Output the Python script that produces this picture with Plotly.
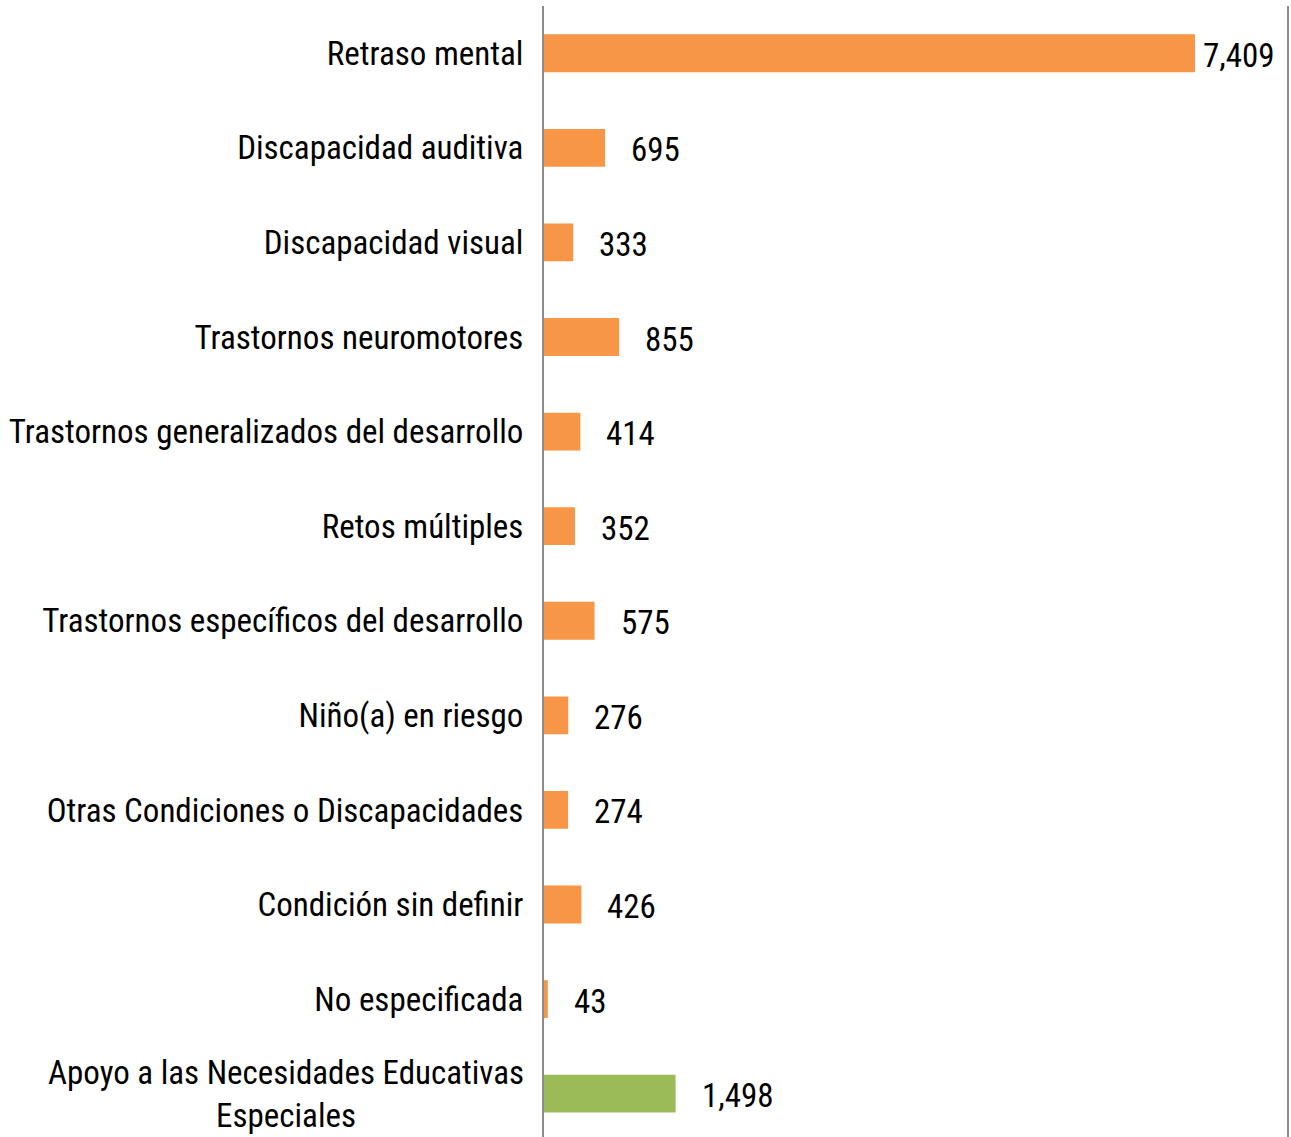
import plotly.graph_objects as go

categories = [
    "Retraso mental",
    "Discapacidad auditiva",
    "Discapacidad visual",
    "Trastornos neuromotores",
    "Trastornos generalizados del desarrollo",
    "Retos múltiples",
    "Trastornos específicos del desarrollo",
    "Niño(a) en riesgo",
    "Otras Condiciones o Discapacidades",
    "Condición sin definir",
    "No especificada",
    "Apoyo a las Necesidades Educativas<br>Especiales",
]
values = [7409, 695, 333, 855, 414, 352, 575, 276, 274, 426, 43, 1498]
value_labels = ["7,409", "695", "333", "855", "414", "352", "575", "276", "274", "426", "43", "1,498"]
colors = ["#F79646"] * 11 + ["#9BBB59"]

FONT = "Liberation Sans Narrow, Arial Narrow, Roboto Condensed, Liberation Sans, sans-serif"
FS = 33

fig = go.Figure()
fig.add_trace(go.Bar(
    x=values,
    y=list(range(len(categories))),
    orientation="h",
    marker=dict(color=colors, line=dict(width=0)),
    width=0.4,
    hoverinfo="skip",
))

annotations = []
for i, (v, lab) in enumerate(zip(values, value_labels)):
    annotations.append(dict(
        x=v, y=i, xref="x", yref="y", text=lab, showarrow=False,
        xanchor="left", yanchor="middle", xshift=6 if i == 0 else 24, yshift=-2,
        font=dict(family=FONT, size=FS, color="#000000"),
    ))

ticktext = [c if "<br>" not in c else "" for c in categories]
for i, c in enumerate(categories):
    if "<br>" in c:
        annotations.append(dict(
            x=0, y=i, xref="paper", yref="y", text=c, showarrow=False,
            xanchor="right", yanchor="middle", xshift=-18, align="center",
            font=dict(family=FONT, size=FS, color="#000000"),
        ))

fig.update_layout(
    width=1291, height=1137,
    margin=dict(l=544, r=4, t=6, b=0, autoexpand=False),
    paper_bgcolor="white", plot_bgcolor="white",
    showlegend=False,
    annotations=annotations,
    xaxis=dict(range=[0, 8456], showgrid=False, zeroline=False, showticklabels=False,
               showline=False, fixedrange=True, automargin=False),
    yaxis=dict(tickmode="array", tickvals=list(range(len(categories))), ticktext=ticktext,
               range=[11.458, -0.5], showgrid=False, zeroline=False, automargin=False,
               showline=True, linecolor="#8c8c8c", linewidth=2, mirror=True,
               ticks="", ticklabelstandoff=12,
               tickfont=dict(family=FONT, size=FS, color="#000000")),
)

fig.write_html("out.html", config={"displayModeBar": False},
               post_script="document.body.style.margin='0';document.body.style.padding='0';")
